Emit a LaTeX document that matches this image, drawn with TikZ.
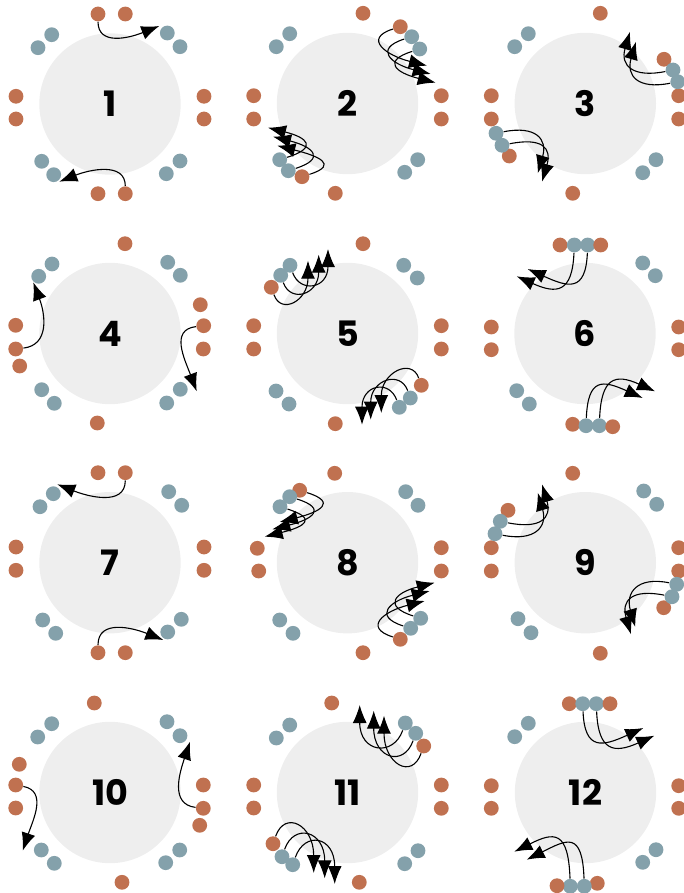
\documentclass[tikz,border=0pt]{standalone}
\usepackage{fontspec}
\newfontfamily\numfont{Poppins}
\usetikzlibrary{arrows.meta}
\definecolor{dotO}{RGB}{192,113,80}
\definecolor{dotB}{RGB}{132,161,171}
\definecolor{discgrey}{RGB}{238,238,238}
\begin{document}
\begin{tikzpicture}[x=0.5pt,y=-0.5pt,
  disc/.style={circle,fill=discgrey,minimum size=70.7pt,inner sep=0pt,font=\numfont\bfseries\fontsize{17.5}{17.5}\selectfont},
  od/.style={circle,fill=dotO,minimum size=7.4pt,inner sep=0pt},
  bd/.style={circle,fill=dotB,minimum size=7.4pt,inner sep=0pt},
  arr/.style={-{Latex[length=9pt,width=7pt]},line width=0.55pt}]
\useasboundingbox (0,0) rectangle (684,893);
% ---------- panel 1
\node[disc] (c1) at (110,104) {1};
\node[od] (p1o1) at (98,14) {};
\node[od] (p1o2) at (125.3,14) {};
\node[od] (p1o3) at (204,96.3) {};
\node[od] (p1o4) at (204,119) {};
\node[od] (p1o5) at (125.3,193.7) {};
\node[od] (p1o6) at (98,193.7) {};
\node[od] (p1o7) at (16,119) {};
\node[od] (p1o8) at (16,96.3) {};
\node[bd] (p1b1) at (167.3,33) {};
\node[bd] (p1b2) at (180,46.7) {};
\node[bd] (p1b3) at (180,161) {};
\node[bd] (p1b4) at (166.3,173.7) {};
\node[bd] (p1b5) at (53.7,174.7) {};
\node[bd] (p1b6) at (41.7,161.3) {};
\node[bd] (p1b7) at (38,47.7) {};
\node[bd] (p1b8) at (51.7,34.7) {};
\coordinate (p1t1) at (159.3,26);
\coordinate (p1t2) at (59.3,181.7);
\draw[arr] (p1o1) .. controls +(0,32) and +(-30,12) .. (p1t1);
\draw[arr] (p1o5) .. controls +(0,-32) and +(30,-12) .. (p1t2);
% ---------- panel 2
\node[disc] (c2) at (347.5,103.5) {2};
\node[od] (p2o1) at (363,13.3) {};
\node[od] (p2o2) at (400.3,26.7) {};
\node[od] (p2o3) at (441.3,95.7) {};
\node[od] (p2o4) at (441.3,119) {};
\node[od] (p2o5) at (335.3,193.3) {};
\node[od] (p2o6) at (302,176.7) {};
\node[od] (p2o7) at (253.7,119) {};
\node[od] (p2o8) at (253.7,95.7) {};
\node[bd] (p2b1) at (411.7,36.7) {};
\node[bd] (p2b2) at (419.7,49) {};
\node[bd] (p2b3) at (417.7,159.7) {};
\node[bd] (p2b4) at (404.7,172.3) {};
\node[bd] (p2b5) at (288.3,170.7) {};
\node[bd] (p2b6) at (279.7,159.7) {};
\node[bd] (p2b7) at (276.3,46.7) {};
\node[bd] (p2b8) at (289.7,33.7) {};
\coordinate (p2t1) at (427,65.7);
\coordinate (p2t2) at (430.7,74);
\coordinate (p2t3) at (435.7,82.7);
\coordinate (p2t4) at (277.3,145.7);
\coordinate (p2t5) at (273,136.7);
\coordinate (p2t6) at (268,127.7);
\draw[arr] (p2o2) .. controls +(-38,12) and +(-40,-10) .. (p2t1);
\draw[arr] (p2b1) .. controls +(-38,12) and +(-40,-10) .. (p2t2);
\draw[arr] (p2b2) .. controls +(-38,12) and +(-40,-10) .. (p2t3);
\draw[arr] (p2o6) .. controls +(38,-12) and +(40,10) .. (p2t4);
\draw[arr] (p2b5) .. controls +(38,-12) and +(40,10) .. (p2t5);
\draw[arr] (p2b6) .. controls +(38,-12) and +(40,10) .. (p2t6);
% ---------- panel 3
\node[disc] (c3) at (585.3,103.5) {3};
\node[od] (p3o1) at (600.3,13.3) {};
\node[od] (p3o2) at (664,59.3) {};
\node[od] (p3o3) at (678.7,95.7) {};
\node[od] (p3o4) at (678.7,119) {};
\node[od] (p3o5) at (572.7,193.3) {};
\node[od] (p3o6) at (509.3,156) {};
\node[od] (p3o7) at (491.3,119) {};
\node[od] (p3o8) at (491.3,95.7) {};
\node[bd] (p3b1) at (673,70) {};
\node[bd] (p3b2) at (677.7,81.7) {};
\node[bd] (p3b3) at (656,159.7) {};
\node[bd] (p3b4) at (642.7,172.7) {};
\node[bd] (p3b5) at (502,145.3) {};
\node[bd] (p3b6) at (496,133.3) {};
\node[bd] (p3b7) at (514.7,46.7) {};
\node[bd] (p3b8) at (528.3,33.7) {};
\coordinate (p3t1) at (630,31.7);
\coordinate (p3t2) at (636,41.7);
\coordinate (p3t3) at (542,181.7);
\coordinate (p3t4) at (537.7,173.3);
\draw[arr] (p3b1) .. controls +(-40,8) and +(-10,34) .. (p3t1);
\draw[arr] (p3b2) .. controls +(-40,8) and +(-10,34) .. (p3t2);
\draw[arr] (p3b5) .. controls +(40,-8) and +(10,-34) .. (p3t3);
\draw[arr] (p3b6) .. controls +(40,-8) and +(10,-34) .. (p3t4);
% ---------- panel 4
\node[disc] (c4) at (110,333.5) {4};
\node[od] (p4o1) at (125,243.7) {};
\node[od] (p4o2) at (200.3,304.7) {};
\node[od] (p4o3) at (203.7,325.7) {};
\node[od] (p4o4) at (203.3,349) {};
\node[od] (p4o5) at (97.3,423) {};
\node[od] (p4o6) at (19.7,366) {};
\node[od] (p4o7) at (15.7,349) {};
\node[od] (p4o8) at (15.7,325.3) {};
\node[bd] (p4b1) at (167.7,262.3) {};
\node[bd] (p4b2) at (180.3,275.3) {};
\node[bd] (p4b3) at (180.3,389.3) {};
\node[bd] (p4b4) at (166.7,403) {};
\node[bd] (p4b5) at (54.3,403.3) {};
\node[bd] (p4b6) at (41.7,389.7) {};
\node[bd] (p4b7) at (38.7,276.3) {};
\node[bd] (p4b8) at (52,264) {};
\coordinate (p4t1) at (33.3,282.3);
\coordinate (p4t2) at (196.7,391.3);
\draw[arr] (p4o7) .. controls +(34,-4) and +(12,32) .. (p4t1);
\draw[arr] (p4o3) .. controls +(-34,4) and +(-12,-32) .. (p4t2);
% ---------- panel 5
\node[disc] (c5) at (347.5,333.5) {5};
\node[od] (p5o1) at (363,243.7) {};
\node[od] (p5o2) at (441.3,325.7) {};
\node[od] (p5o3) at (441.3,349) {};
\node[od] (p5o4) at (421.3,385.3) {};
\node[od] (p5o5) at (335.3,423.7) {};
\node[od] (p5o6) at (253.7,349) {};
\node[od] (p5o7) at (253.7,325.7) {};
\node[od] (p5o8) at (271.3,287.3) {};
\node[bd] (p5b1) at (403.7,265.3) {};
\node[bd] (p5b2) at (417.3,278) {};
\node[bd] (p5b3) at (410.3,398) {};
\node[bd] (p5b4) at (399.3,407.3) {};
\node[bd] (p5b5) at (289,404) {};
\node[bd] (p5b6) at (276,391) {};
\node[bd] (p5b7) at (280.7,275.3) {};
\node[bd] (p5b8) at (290,265.3) {};
\coordinate (p5t1) at (308,260.7);
\coordinate (p5t2) at (318.7,254.7);
\coordinate (p5t3) at (328,249);
\coordinate (p5t4) at (381.3,413);
\coordinate (p5t5) at (370.7,419.7);
\coordinate (p5t6) at (362,424.7);
\draw[arr] (p5o8) .. controls +(10,28) and +(0,40) .. (p5t1);
\draw[arr] (p5b7) .. controls +(10,28) and +(0,40) .. (p5t2);
\draw[arr] (p5b8) .. controls +(10,28) and +(0,40) .. (p5t3);
\draw[arr] (p5o4) .. controls +(-10,-28) and +(0,-40) .. (p5t4);
\draw[arr] (p5b3) .. controls +(-10,-28) and +(0,-40) .. (p5t5);
\draw[arr] (p5b4) .. controls +(-10,-28) and +(0,-40) .. (p5t6);
% ---------- panel 6
\node[disc] (c6) at (585,333.5) {6};
\node[od] (p6o1) at (560,245) {};
\node[bd] (p6b1) at (574.3,245) {};
\node[bd] (p6b2) at (587.7,245) {};
\node[od] (p6o2) at (600.7,245) {};
\node[od] (p6o3) at (678.7,327) {};
\node[od] (p6o4) at (678.7,349.7) {};
\node[od] (p6o6) at (572.7,424.3) {};
\node[bd] (p6b6) at (586,425.7) {};
\node[bd] (p6b5) at (599.3,425.7) {};
\node[od] (p6o5) at (612.7,426.7) {};
\node[od] (p6o7) at (491.3,349.7) {};
\node[od] (p6o8) at (491.3,327) {};
\node[bd] (p6b3) at (642.7,263) {};
\node[bd] (p6b4) at (655.3,275.7) {};
\node[bd] (p6b7) at (529.3,404) {};
\node[bd] (p6b8) at (516.7,390.7) {};
\coordinate (p6t1) at (516.7,276.3);
\coordinate (p6t2) at (527.7,269);
\coordinate (p6t3) at (655,391.3);
\coordinate (p6t4) at (642.7,398);
\draw[arr] (p6b1) .. controls +(-2,48) and +(40,18) .. (p6t1);
\draw[arr] (p6b2) .. controls +(-2,48) and +(40,18) .. (p6t2);
\draw[arr] (p6b5) .. controls +(2,-48) and +(-40,-18) .. (p6t3);
\draw[arr] (p6b6) .. controls +(2,-48) and +(-40,-18) .. (p6t4);
% ---------- panel 7
\node[disc] (c7) at (110,562.7) {7};
\node[od] (p7o1) at (98,472.7) {};
\node[od] (p7o2) at (125.3,472.7) {};
\node[od] (p7o3) at (204,547) {};
\node[od] (p7o4) at (204,570.3) {};
\node[od] (p7o5) at (125.3,652.7) {};
\node[od] (p7o6) at (98,652.7) {};
\node[od] (p7o7) at (16,570.3) {};
\node[od] (p7o8) at (16,547) {};
\node[bd] (p7b1) at (168.7,491.7) {};
\node[bd] (p7b2) at (181.7,505.3) {};
\node[bd] (p7b3) at (181.3,619.3) {};
\node[bd] (p7b4) at (167.7,632) {};
\node[bd] (p7b5) at (55.7,633.3) {};
\node[bd] (p7b6) at (42.7,620) {};
\node[bd] (p7b7) at (40,506.7) {};
\node[bd] (p7b8) at (53.3,493.7) {};
\coordinate (p7t1) at (57.3,484.3);
\coordinate (p7t2) at (163.3,640);
\draw[arr] (p7o2) .. controls +(0,34) and +(30,12) .. (p7t1);
\draw[arr] (p7o6) .. controls +(0,-34) and +(-30,-12) .. (p7t2);
% ---------- panel 8
\node[disc] (c8) at (347.5,562.7) {8};
\node[od] (p8o1) at (334.7,473.3) {};
\node[od] (p8o2) at (299.7,490.3) {};
\node[od] (p8o3) at (257.3,548.3) {};
\node[od] (p8o4) at (258.7,571) {};
\node[od] (p8o5) at (363,652.7) {};
\node[od] (p8o6) at (400.3,639.3) {};
\node[od] (p8o7) at (441.3,571) {};
\node[od] (p8o8) at (441.3,547.7) {};
\node[bd] (p8b1) at (289.7,496.7) {};
\node[bd] (p8b2) at (280,506.7) {};
\node[bd] (p8b3) at (279.7,620) {};
\node[bd] (p8b4) at (293,633.3) {};
\node[bd] (p8b5) at (410.7,628.3) {};
\node[bd] (p8b6) at (420.7,618.3) {};
\node[bd] (p8b7) at (418,505.3) {};
\node[bd] (p8b8) at (405.7,491.7) {};
\coordinate (p8t1) at (279.7,522);
\coordinate (p8t2) at (272.3,529.3);
\coordinate (p8t3) at (264.7,536.7);
\coordinate (p8t4) at (424.7,601);
\coordinate (p8t5) at (429.7,591);
\coordinate (p8t6) at (434.7,582.7);
\draw[arr] (p8o2) .. controls +(38,12) and +(40,-10) .. (p8t1);
\draw[arr] (p8b1) .. controls +(38,12) and +(40,-10) .. (p8t2);
\draw[arr] (p8b2) .. controls +(38,12) and +(40,-10) .. (p8t3);
\draw[arr] (p8o6) .. controls +(-38,-12) and +(-40,10) .. (p8t4);
\draw[arr] (p8b5) .. controls +(-38,-12) and +(-40,10) .. (p8t5);
\draw[arr] (p8b6) .. controls +(-38,-12) and +(-40,10) .. (p8t6);
% ---------- panel 9
\node[disc] (c9) at (585.3,562.7) {9};
\node[od] (p9o1) at (572.7,473.3) {};
\node[od] (p9o2) at (678.7,547.7) {};
\node[od] (p9o3) at (678.7,571) {};
\node[od] (p9o4) at (663.7,607.7) {};
\node[od] (p9o5) at (600.3,653.3) {};
\node[od] (p9o6) at (491.3,571) {};
\node[od] (p9o7) at (491.3,547.7) {};
\node[od] (p9o8) at (508,510.3) {};
\node[bd] (p9b1) at (643.7,491) {};
\node[bd] (p9b2) at (656.7,504.3) {};
\node[bd] (p9b3) at (676.7,584.3) {};
\node[bd] (p9b4) at (672,596.7) {};
\node[bd] (p9b5) at (531,632.7) {};
\node[bd] (p9b6) at (518,618.7) {};
\node[bd] (p9b7) at (495,533.7) {};
\node[bd] (p9b8) at (500.3,521.3) {};
\coordinate (p9t1) at (542,484.3);
\coordinate (p9t2) at (537.7,492.7);
\coordinate (p9t3) at (631,634.3);
\coordinate (p9t4) at (635.3,627);
\draw[arr] (p9b8) .. controls +(40,8) and +(10,34) .. (p9t1);
\draw[arr] (p9b7) .. controls +(40,8) and +(10,34) .. (p9t2);
\draw[arr] (p9b4) .. controls +(-40,-8) and +(-10,-34) .. (p9t3);
\draw[arr] (p9b3) .. controls +(-40,-8) and +(-10,-34) .. (p9t4);
% ---------- panel 10
\node[disc] (c10) at (110,792.5) {10};
\node[od] (p10o1) at (94.3,703) {};
\node[od] (p10o2) at (203.3,785) {};
\node[od] (p10o3) at (203.3,808.3) {};
\node[od] (p10o4) at (199.7,825.3) {};
\node[od] (p10o5) at (122,882.3) {};
\node[od] (p10o6) at (15.7,808) {};
\node[od] (p10o7) at (15.7,785) {};
\node[od] (p10o8) at (19.3,764.3) {};
\node[bd] (p10b1) at (167,721.7) {};
\node[bd] (p10b2) at (180,735.7) {};
\node[bd] (p10b3) at (179.7,850) {};
\node[bd] (p10b4) at (165.7,862.7) {};
\node[bd] (p10b5) at (54.3,863.3) {};
\node[bd] (p10b6) at (41.3,850) {};
\node[bd] (p10b7) at (37.7,737) {};
\node[bd] (p10b8) at (51.7,723.7) {};
\coordinate (p10t1) at (22.7,850.7);
\coordinate (p10t2) at (190,741.7);
\draw[arr] (p10o7) .. controls +(32,6) and +(10,-30) .. (p10t1);
\draw[arr] (p10o3) .. controls +(-34,-4) and +(-10,30) .. (p10t2);
% ---------- panel 11
\node[disc] (c11) at (347.5,792.5) {11};
\node[od] (p11o1) at (331.7,703) {};
\node[od] (p11o2) at (423.7,746) {};
\node[od] (p11o3) at (441.3,785) {};
\node[od] (p11o4) at (441.3,808.3) {};
\node[od] (p11o5) at (359.3,882.3) {};
\node[od] (p11o6) at (273,843.7) {};
\node[od] (p11o7) at (253.7,808) {};
\node[od] (p11o8) at (253.7,785) {};
\node[bd] (p11b1) at (405.3,723) {};
\node[bd] (p11b2) at (415.7,733.3) {};
\node[bd] (p11b3) at (418,850.7) {};
\node[bd] (p11b4) at (404.7,863.7) {};
\node[bd] (p11b5) at (292.7,864.7) {};
\node[bd] (p11b6) at (282,856.7) {};
\node[bd] (p11b7) at (276.3,738) {};
\node[bd] (p11b8) at (289.7,725) {};
\coordinate (p11t1) at (359.7,705);
\coordinate (p11t2) at (373.7,710.7);
\coordinate (p11t3) at (384,715.7);
\coordinate (p11t4) at (313.7,873);
\coordinate (p11t5) at (324.7,878.3);
\coordinate (p11t6) at (334.7,884);
\draw[arr] (p11b1) .. controls +(-12,34) and +(0,48) .. (p11t1);
\draw[arr] (p11b2) .. controls +(-12,34) and +(0,48) .. (p11t2);
\draw[arr] (p11o2) .. controls +(-12,34) and +(0,48) .. (p11t3);
\draw[arr] (p11o6) .. controls +(12,-34) and +(0,-48) .. (p11t4);
\draw[arr] (p11b6) .. controls +(12,-34) and +(0,-48) .. (p11t5);
\draw[arr] (p11b5) .. controls +(12,-34) and +(0,-48) .. (p11t6);
% ---------- panel 12
\node[disc] (c12) at (585.5,792.5) {12};
\node[od] (p12o1) at (569.3,703.7) {};
\node[bd] (p12b1) at (582.7,703.7) {};
\node[bd] (p12b2) at (596.3,703.7) {};
\node[od] (p12o2) at (610,703.7) {};
\node[od] (p12o3) at (678.7,785.7) {};
\node[od] (p12o4) at (678.7,808.3) {};
\node[od] (p12o5) at (597.3,883.3) {};
\node[bd] (p12b5) at (584.3,886.3) {};
\node[bd] (p12b6) at (570.3,886.3) {};
\node[od] (p12o6) at (557,885.7) {};
\node[od] (p12o7) at (491.3,808.3) {};
\node[od] (p12o8) at (491.3,785.7) {};
\node[bd] (p12b3) at (656,849.7) {};
\node[bd] (p12b4) at (642.7,862.3) {};
\node[bd] (p12b7) at (514.7,736.7) {};
\node[bd] (p12b8) at (528.3,723.3) {};
\coordinate (p12t1) at (643.3,728);
\coordinate (p12t2) at (654.3,735.7);
\coordinate (p12t3) at (526.7,859.7);
\coordinate (p12t4) at (514.3,851.7);
\draw[arr] (p12b1) .. controls +(2,48) and +(-40,18) .. (p12t1);
\draw[arr] (p12b2) .. controls +(2,48) and +(-40,18) .. (p12t2);
\draw[arr] (p12b5) .. controls +(-2,-56) and +(40,-20) .. (p12t3);
\draw[arr] (p12b6) .. controls +(-2,-56) and +(40,-20) .. (p12t4);
\end{tikzpicture}
\end{document}
